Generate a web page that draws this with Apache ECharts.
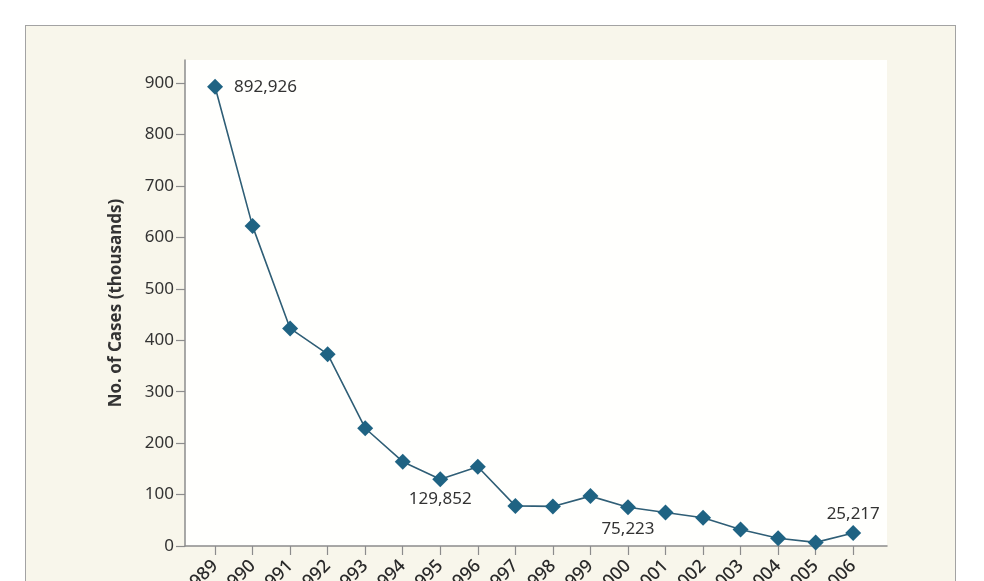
<!DOCTYPE html>
<html>
<head>
<meta charset="utf-8">
<script src="https://cdn.jsdelivr.net/npm/echarts@6/dist/echarts.min.js"></script>
<style>
  html, body { margin: 0; padding: 0; background: #ffffff; width: 984px; height: 581px; overflow: hidden; }
  #panel { position: absolute; left: 25px; top: 25px; width: 931px; height: 620px; border: 1.5px solid #a3a3a3; background: #f8f6eb; box-sizing: border-box; }
  #chart { position: absolute; left: 0; top: 0; width: 984px; height: 581px; }
</style>
</head>
<body>
<div id="panel"></div>
<div id="chart"></div>
<script>
const years = [1989, 1990, 1991, 1992, 1993, 1994, 1995, 1996, 1997, 1998, 1999, 2000, 2001, 2002, 2003, 2004, 2005, 2006];
const casesThousands = [892.926, 622, 423, 373, 229, 164, 129.852, 154, 78, 77, 97, 75.223, 65, 55, 32, 15, 7, 25.217];
const yTicks = [0, 100, 200, 300, 400, 500, 600, 700, 800, 900];
const yTitle = 'No. of Cases (thousands)';
const annotatedYears = [1989, 1995, 2000, 2006];

const font = '"Noto Sans", "DejaVu Sans", sans-serif';
const labelPlacement = {
  1989: { position: 'right', distance: 11 },
  1995: { position: 'bottom', distance: 3 },
  2000: { position: 'bottom', distance: 5 },
  2006: { position: 'top', distance: 2 }
};

const seriesData = years.map((yr, i) => {
  const item = { value: [yr, casesThousands[i]] };
  if (annotatedYears.includes(yr)) {
    item.label = Object.assign({
      show: true,
      formatter: (p) => Math.round(p.value[1] * 1000).toLocaleString('en-US'),
      fontFamily: font,
      fontSize: 17,
      color: '#333333'
    }, labelPlacement[yr]);
  }
  return item;
});

const chart = echarts.init(document.getElementById('chart'), null, { renderer: 'canvas' });
chart.setOption({
  backgroundColor: 'transparent',
  animation: false,
  grid: {
    left: 185, right: 97, top: 60, bottom: 35,
    containLabel: false,
    outerBoundsMode: 'none',
    show: true, backgroundColor: '#fffffd', borderWidth: 0
  },
  xAxis: {
    type: 'value',
    min: 1988.2,
    max: 2006.9,
    axisLine: { show: true, lineStyle: { color: '#8c8c8c', width: 1.5 } },
    axisTick: { show: true, customValues: years, length: 9, lineStyle: { color: '#8c8c8c', width: 1.2 } },
    axisLabel: {
      customValues: years,
      rotate: 45,
      margin: 17,
      fontFamily: font,
      fontSize: 18,
      fontWeight: 500,
      color: '#2a2a2a',
      formatter: (v) => String(v)
    },
    splitLine: { show: false }
  },
  yAxis: {
    type: 'value',
    min: 0,
    max: 945,
    name: yTitle,
    nameLocation: 'middle',
    nameGap: 60,
    nameTextStyle: { fontFamily: font, fontSize: 17, fontWeight: 'bold', color: '#333333' },
    axisLine: { show: true, lineStyle: { color: '#8c8c8c', width: 1.5 } },
    axisTick: { show: true, customValues: yTicks, length: 9, lineStyle: { color: '#8c8c8c', width: 1.2 } },
    axisLabel: {
      customValues: yTicks,
      margin: 11,
      fontFamily: font,
      fontSize: 17,
      color: '#333333'
    },
    splitLine: { show: false }
  },
  series: [{
    type: 'line',
    data: seriesData,
    symbol: 'diamond',
    symbolSize: 16,
    itemStyle: { color: '#1f6383' },
    lineStyle: { color: '#2f5e76', width: 1.6 },
    label: { show: false }
  }]
});
</script>
</body>
</html>
